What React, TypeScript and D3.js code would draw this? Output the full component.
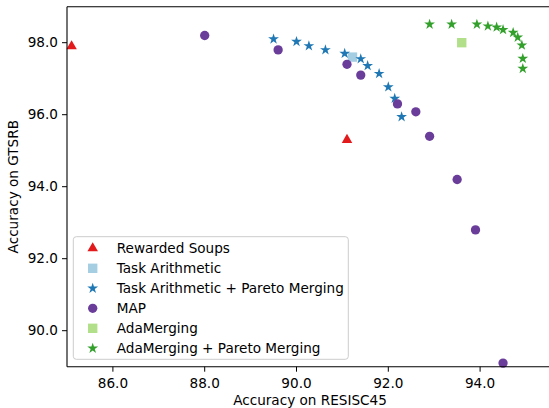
import React from "react";
import * as d3 from "d3";

// data
const rewardedSoupsX = [85.1, 91.1];
const rewardedSoupsY = [97.9, 95.3];

const taskArithX = [91.22];
const taskArithY = [97.6];

const taParetoX = [89.5, 90.0, 90.27, 90.63, 91.05, 91.4, 91.55, 91.8, 92.0, 92.14, 92.29];
const taParetoY = [98.1, 98.03, 97.91, 97.8, 97.7, 97.55, 97.36, 97.14, 96.77, 96.45, 95.94];

const mapX = [88.0, 89.6, 91.1, 91.4, 92.2, 92.6, 92.9, 93.5, 93.9, 94.5];
const mapY = [98.2, 97.8, 97.4, 97.1, 96.3, 96.08, 95.4, 94.2, 92.8, 89.1];

const adaX = [93.6];
const adaY = [98.0];

const adaParetoX = [92.9, 93.38, 93.93, 94.17, 94.36, 94.5, 94.72, 94.82, 94.91, 94.93, 94.93];
const adaParetoY = [98.51, 98.51, 98.51, 98.46, 98.43, 98.36, 98.28, 98.15, 97.93, 97.56, 97.28];

const xTicks = [86, 88, 90, 92, 94];
const yTicks = [90, 92, 94, 96, 98];

const series = [
  { name: "Rewarded Soups", xs: rewardedSoupsX, ys: rewardedSoupsY, color: "#e31a1c", shape: "triangle" },
  { name: "Task Arithmetic", xs: taskArithX, ys: taskArithY, color: "#a6cee3", shape: "square" },
  { name: "Task Arithmetic + Pareto Merging", xs: taParetoX, ys: taParetoY, color: "#1f78b4", shape: "star" },
  { name: "MAP", xs: mapX, ys: mapY, color: "#6a3d9a", shape: "circle" },
  { name: "AdaMerging", xs: adaX, ys: adaY, color: "#b2df8a", shape: "square" },
  { name: "AdaMerging + Pareto Merging", xs: adaParetoX, ys: adaParetoY, color: "#33a02c", shape: "star" },
];

const W = 549;
const H = 408;
const left = 67;
const top = 6.7;
const bottom = 366.7;
const font = "DejaVu Sans, sans-serif";

const symbolPath = (shape: string) => {
  if (shape === "triangle") return d3.symbol(d3.symbolTriangle, 48)();
  if (shape === "square") return d3.symbol(d3.symbolSquare, 88)();
  if (shape === "star") return d3.symbol(d3.symbolStar, 36)();
  return d3.symbol(d3.symbolCircle, 68)();
};

export default function App() {
  const x = d3.scaleLinear().domain([85, 96]).range([left, left + 11 * 45.9]);
  const y = d3.scaleLinear().domain([89, 99]).range([bottom, top]);
  const fmt = d3.format(".1f");

  return (
    <svg
      width={W}
      height={H}
      style={{ position: "absolute", left: 0, top: 0, background: "#fff" }}
      fontFamily={font}
    >
      {/* points */}
      {series.map(s =>
        s.xs.map((v, i) => (
          <path
            key={s.name + i}
            d={symbolPath(s.shape) || ""}
            transform={`translate(${x(v)},${y(s.ys[i])})`}
            fill={s.color}
          />
        ))
      )}

      {/* spines */}
      <line x1={left} x2={W} y1={bottom} y2={bottom} stroke="#000" strokeWidth={1.1} />
      <line x1={left} x2={W} y1={top} y2={top} stroke="#000" strokeWidth={1.1} />
      <line x1={left} x2={left} y1={top} y2={bottom} stroke="#000" strokeWidth={1.1} />

      {/* x axis */}
      {xTicks.map(t => (
        <g key={t} transform={`translate(${x(t)},${bottom})`}>
          <line y2={5} stroke="#000" />
          <text y={21} textAnchor="middle" fontSize={13.6} fill="#000">
            {fmt(t)}
          </text>
        </g>
      ))}
      <text x={310} y={405} textAnchor="middle" fontSize={13.6} fill="#000">
        Accuracy on RESISC45
      </text>

      {/* y axis */}
      {yTicks.map(t => (
        <g key={t} transform={`translate(${left},${y(t)})`}>
          <line x2={-5} stroke="#000" />
          <text x={-9} dy="0.35em" textAnchor="end" fontSize={13.6} fill="#000">
            {fmt(t)}
          </text>
        </g>
      ))}
      <text
        transform={`translate(18,${(top + bottom) / 2}) rotate(-90)`}
        textAnchor="middle"
        fontSize={13.6}
        fill="#000"
      >
        Accuracy on GTSRB
      </text>

      {/* legend */}
      <rect x={73.3} y={236.7} width={275} height={122.6} rx={3} fill="#fff" fillOpacity={0.8} stroke="#cccccc" />
      {series.map((s, i) => (
        <g key={s.name} transform={`translate(0,${248.3 + i * 20})`}>
          <path d={symbolPath(s.shape) || ""} transform="translate(92.7,0)" fill={s.color} />
          <text x={116.7} dy="0.35em" fontSize={13.6} fill="#000">
            {s.name}
          </text>
        </g>
      ))}
    </svg>
  );
}
